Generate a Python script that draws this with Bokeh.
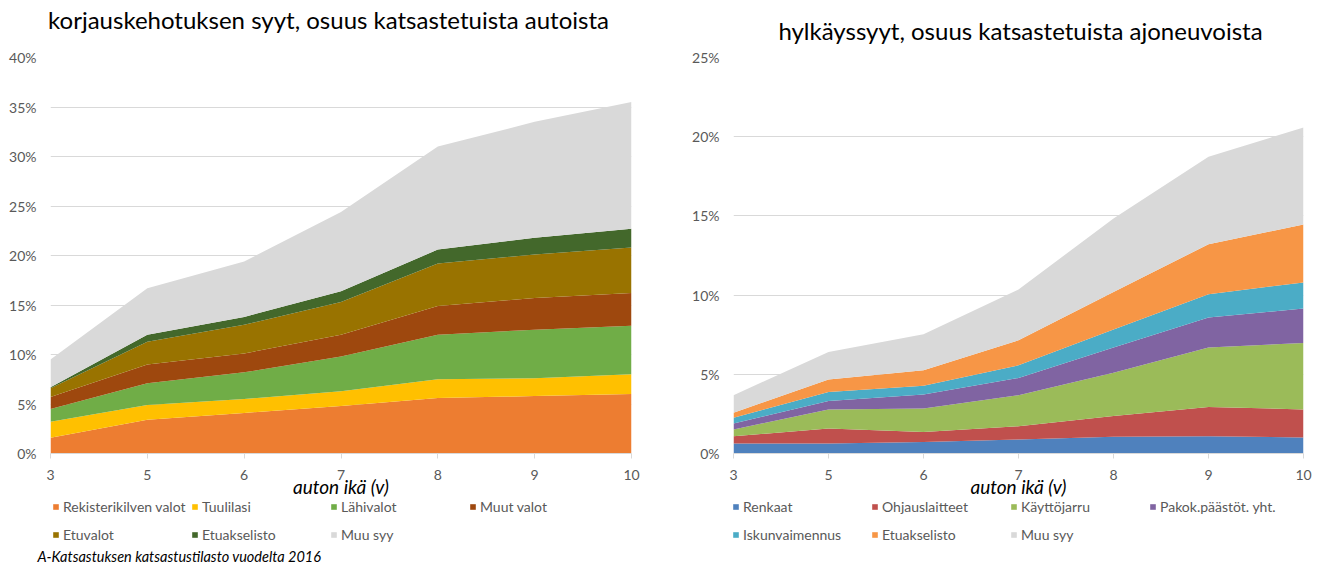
from bokeh.plotting import figure
from bokeh.models import (Range1d, FixedTicker, PrintfTickFormatter, Legend,
                          LegendItem, Label, ColumnDataSource, GridBox)
from bokeh.embed import file_html
from bokeh.resources import INLINE

# ---------------- data ----------------
ages = ["3", "5", "6", "7", "8", "9", "10"]
x_label = "auton ikä (v)"
source_note = "A-Katsastuksen katsastustilasto  vuodelta 2016"

left_title = "korjauskehotuksen syyt, osuus katsastetuista autoista"
left_names = ["Rekisterikilven valot", "Tuulilasi", "Lähivalot", "Muut valot",
              "Etuvalot", "Etuakselisto", "Muu syy"]
left_colors = ["#ED7D31", "#FFC000", "#70AD47", "#9E480E",
               "#997300", "#43682B", "#D9D9D9"]
rekisterikilven_valot = [1.6, 3.4, 4.1, 4.8, 5.6, 5.8, 6.0]
tuulilasi = [1.6, 1.5, 1.4, 1.5, 1.9, 1.8, 2.0]
lahivalot = [1.3, 2.2, 2.7, 3.5, 4.5, 4.9, 4.9]
muut_valot = [1.2, 1.9, 1.9, 2.2, 2.9, 3.2, 3.3]
etuvalot = [0.9, 2.3, 2.9, 3.3, 4.3, 4.4, 4.6]
etuakselisto_k = [0.1, 0.7, 0.8, 1.1, 1.4, 1.7, 1.9]
muu_syy_k = [2.8, 4.7, 5.6, 8.0, 10.4, 11.7, 12.8]
left_series = [rekisterikilven_valot, tuulilasi, lahivalot, muut_valot,
               etuvalot, etuakselisto_k, muu_syy_k]
left_ticks = [0, 5, 10, 15, 20, 25, 30, 35, 40]

right_title = "hylkäyssyyt, osuus katsastetuista ajoneuvoista"
right_names = ["Renkaat", "Ohjauslaitteet", "Käyttöjarru", "Pakok.päästöt. yht.",
               "Iskunvaimennus", "Etuakselisto", "Muu syy"]
right_colors = ["#4F81BD", "#C0504D", "#9BBB59", "#8064A2",
                "#4BACC6", "#F79646", "#D9D9D9"]
renkaat = [0.63, 0.63, 0.73, 0.88, 1.05, 1.09, 1.01]
ohjauslaitteet = [0.46, 0.95, 0.63, 0.84, 1.31, 1.85, 1.77]
kayttojarru = [0.43, 1.20, 1.48, 1.96, 2.73, 3.75, 4.20]
pakokaasut = [0.37, 0.54, 0.88, 1.09, 1.60, 1.90, 2.17]
iskunvaimennus = [0.36, 0.57, 0.55, 0.80, 1.14, 1.47, 1.65]
etuakselisto_h = [0.32, 0.78, 0.99, 1.58, 2.37, 3.15, 3.66]
muu_syy_h = [1.11, 1.74, 2.27, 3.20, 4.64, 5.52, 6.12]
right_series = [renkaat, ohjauslaitteet, kayttojarru, pakokaasut,
                iskunvaimennus, etuakselisto_h, muu_syy_h]
right_ticks = [0, 5, 10, 15, 20, 25]

FONT = "Lato"
GREY = "#595959"
GRID = "#D9D9D9"
H = 567
TOP = 57
FRAME_H = 396
NAN = float("nan")


def make_chart(series, colors, yticks, width, bl, frame_w):
    p = figure(width=width, height=H, output_backend="svg",
               toolbar_location=None, x_range=Range1d(0, len(ages) - 1),
               y_range=Range1d(yticks[0], yticks[-1]),
               min_border_left=bl, min_border_right=width - bl - frame_w,
               min_border_top=TOP, min_border_bottom=H - TOP - FRAME_H)
    p.frame_align = False
    p.outline_line_color = None
    p.background_fill_color = "white"
    p.border_fill_color = "white"

    data = {"x": list(range(len(ages)))}
    keys = []
    for i, s in enumerate(series):
        k = f"s{i}"
        data[k] = s
        keys.append(k)
    src = ColumnDataSource(data)
    p.varea_stack(stackers=keys, x="x", color=colors, source=src)

    xa = p.xaxis[0]
    xa.ticker = FixedTicker(ticks=list(range(len(ages))))
    xa.major_label_overrides = {i: a for i, a in enumerate(ages)}
    xa.axis_line_color = GRID
    xa.major_tick_line_color = GRID
    xa.major_tick_out = 5
    xa.major_tick_in = 0
    xa.minor_tick_line_color = None
    xa.major_label_text_font = FONT
    xa.major_label_text_font_size = "14px"
    xa.major_label_text_color = GREY
    xa.major_label_standoff = 11
    xa.axis_label = x_label
    xa.axis_label_text_font = FONT
    xa.axis_label_text_font_size = "19px"
    xa.axis_label_text_font_style = "italic"
    xa.axis_label_text_color = "#000000"
    xa.axis_label_standoff = -8

    ya = p.yaxis[0]
    ya.ticker = FixedTicker(ticks=yticks)
    ya.formatter = PrintfTickFormatter(format="%d%%")
    ya.axis_line_color = None
    ya.major_tick_line_color = None
    ya.minor_tick_line_color = None
    ya.major_tick_out = 0
    ya.major_tick_in = 0
    ya.major_label_text_font = FONT
    ya.major_label_text_font_size = "14px"
    ya.major_label_text_color = GREY
    ya.major_label_standoff = 14

    p.xgrid.grid_line_color = None
    p.ygrid.grid_line_color = GRID
    p.ygrid.grid_line_width = 1
    return p


def make_overlay(title, title_x, title_y, names, colors, width, leg_x,
                 note=None):
    # transparent canvas in pixel coordinates (y downwards) on top of the
    # chart: title, legend and source note live here so nothing is clipped
    o = figure(width=width, height=H, output_backend="svg",
               toolbar_location=None, x_range=Range1d(0, width),
               y_range=Range1d(H, 0), x_axis_type=None, y_axis_type=None,
               min_border=0, min_border_left=0, min_border_right=0,
               min_border_top=0, min_border_bottom=0)
    o.frame_align = False
    o.outline_line_color = None
    o.grid.visible = False
    o.background_fill_alpha = 0
    o.border_fill_alpha = 0

    o.add_layout(Label(x=title_x, y=title_y, text=title, text_font=FONT,
                       text_font_size="24px", text_color="#000000",
                       text_align="center", text_baseline="middle"))

    # legend swatches: renderers without visible geometry
    rends = [o.varea(x=[NAN], y1=[NAN], y2=[NAN], fill_color=c)
             for c in colors]
    items = [LegendItem(label=n, renderers=[r]) for n, r in zip(names, rends)]
    rows = [items[:4], items[4:]]
    for j, its in enumerate(rows):
        leg = Legend(items=its, orientation="horizontal",
                     location=(leg_x, 51 - 28 * j), padding=0, margin=0,
                     spacing=3, glyph_width=7, glyph_height=7,
                     label_standoff=4, label_width=125, label_height=20,
                     label_text_font=FONT, label_text_font_size="14px",
                     label_text_color=GREY, border_line_color=None,
                     background_fill_alpha=0)
        o.add_layout(leg, "center")

    if note is not None:
        o.add_layout(Label(x=37, y=556, text=note, text_font=FONT,
                           text_font_size="14.5px", text_font_style="italic",
                           text_color="#000000", text_align="left",
                           text_baseline="middle"))
    return o


LW, RW = 663, 662
left = make_chart(left_series, left_colors, left_ticks, LW, 50, 581)
left_o = make_overlay(left_title, 328, 19, left_names, left_colors, LW, 52,
                      note=source_note)
right = make_chart(right_series, right_colors, right_ticks, RW, 70, 570)
right_o = make_overlay(right_title, 357, 30, right_names, right_colors, RW, 69)

layout = GridBox(children=[(left, 0, 0), (left_o, 0, 0),
                           (right, 0, 1), (right_o, 0, 1)])
open("out.html", "w").write(file_html(layout, INLINE))
